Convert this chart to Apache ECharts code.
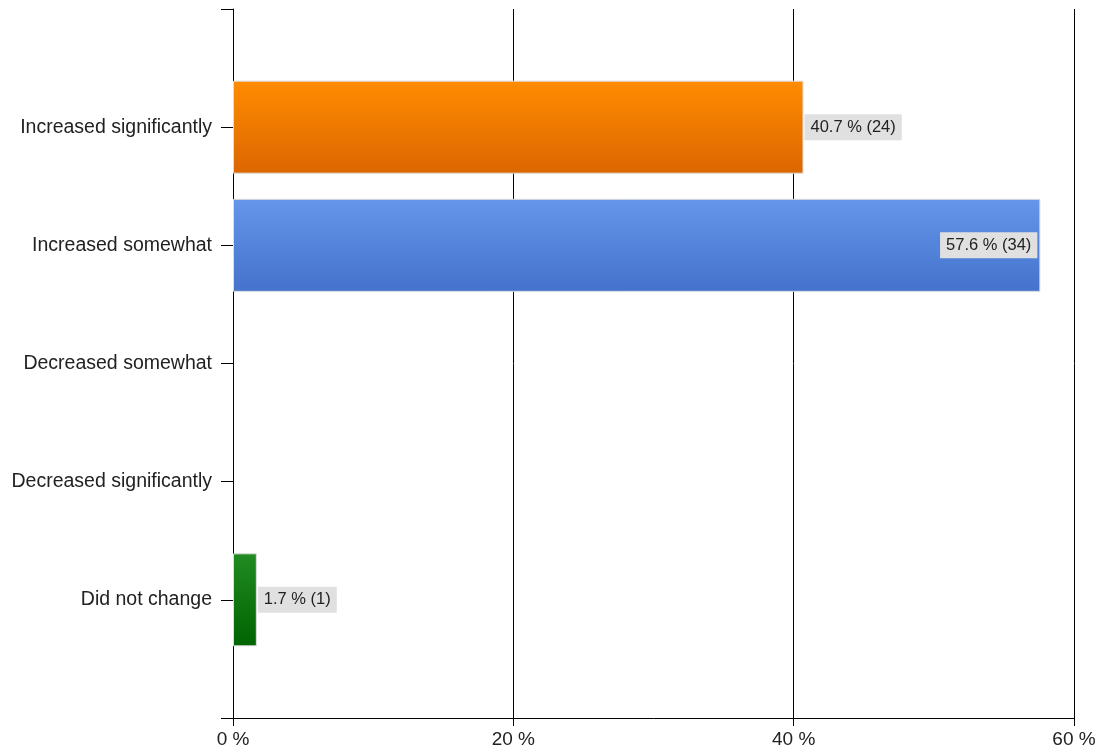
<!DOCTYPE html>
<html>
<head>
<meta charset="utf-8">
<script src="https://cdn.jsdelivr.net/npm/echarts@6/dist/echarts.min.js"></script>
<style>
  html, body { margin: 0; padding: 0; background: #fff; }
  #chart { width: 1095px; height: 751px; }
</style>
</head>
<body>
<div id="chart"></div>
<script>
// Survey answers, top to bottom
const categories = [
  'Increased significantly',
  'Increased somewhat',
  'Decreased somewhat',
  'Decreased significantly',
  'Did not change'
];
// Share of respondents (%) and response counts
const percents = [40.7, 57.6, 0, 0, 1.7];
const counts = [24, 34, 0, 0, 1];
// Bar gradient colours (top, bottom)
const barColors = [
  ['#ff8c00', '#dc6600'],
  ['#6596ea', '#4472cc'],
  ['#6596ea', '#4472cc'],
  ['#6596ea', '#4472cc'],
  ['#228b22', '#006400']
];
// Value axis ticks
const xTicks = [0, 20, 40, 60];

const FONT = 'Liberation Sans, Arial, sans-serif';

// Empty slots above and below leave space at the ends of the category axis
const axisCats = [''].concat(categories, ['']);

const seriesData = [null].concat(percents.map((v, i) => ({
  value: v,
  count: counts[i],
  itemStyle: {
    color: new echarts.graphic.LinearGradient(0, 0, 0, 1, [
      { offset: 0, color: barColors[i][0] },
      { offset: 1, color: barColors[i][1] }
    ]),
    borderWidth: v > 0 ? 1 : 0
  },
  label: {
    show: v > 0,
    position: v > 50 ? 'insideRight' : 'right',
    distance: v > 50 ? 3 : 1
  }
})), [null]);

const chart = echarts.init(document.getElementById('chart'), null, { renderer: 'canvas' });
chart.setOption({
  animation: false,
  backgroundColor: '#fff',
  textStyle: { fontFamily: FONT },
  grid: {
    left: 233, right: 21, top: 9, bottom: 33,
    containLabel: false,
    outerBoundsMode: 'none'
  },
  xAxis: {
    type: 'value',
    min: xTicks[0],
    max: xTicks[xTicks.length - 1],
    interval: 20,
    axisLine: { show: true, lineStyle: { color: '#000', width: 1 } },
    axisTick: { show: true, length: 8, lineStyle: { color: '#000' } },
    splitLine: { show: true, lineStyle: { color: '#000', width: 1 } },
    axisLabel: {
      color: '#222',
      fontFamily: FONT,
      fontSize: 19,
      margin: 12,
      formatter: v => v + ' %'
    }
  },
  yAxis: {
    type: 'category',
    data: axisCats,
    inverse: true,
    boundaryGap: false,
    axisLine: { show: true, lineStyle: { color: '#000', width: 1 } },
    axisTick: { show: true, length: 12, lineStyle: { color: '#000' } },
    splitLine: { show: false },
    axisLabel: {
      color: '#222',
      fontFamily: FONT,
      fontSize: 19.5,
      margin: 21,
      interval: 0
    }
  },
  series: [{
    type: 'bar',
    data: seriesData,
    barWidth: 93,
    itemStyle: { borderColor: '#dcdcdc' },
    label: {
      show: true,
      color: '#222',
      fontFamily: FONT,
      fontSize: 16.5,
      backgroundColor: '#e0e0e0',
      padding: [5, 6, 4, 6],
      formatter: p => p.value + ' % (' + p.data.count + ')'
    }
  }]
});
</script>
</body>
</html>
